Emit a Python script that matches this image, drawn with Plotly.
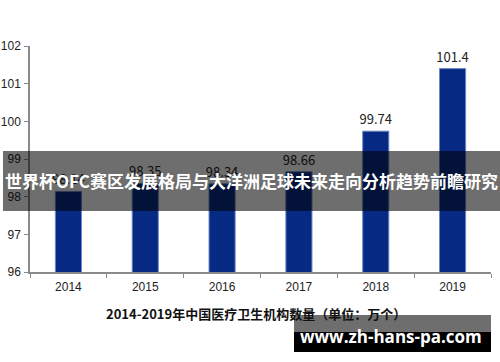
import plotly.graph_objects as go

years = ["2014", "2015", "2016", "2017", "2018", "2019"]
values = [98.14, 98.35, 98.34, 98.66, 99.74, 101.4]
labels = ["98.14", "98.35", "98.34", "98.66", "99.74", "101.4"]
y_ticks = [96, 97, 98, 99, 100, 101, 102]

title_text = "2014-2019年中国医疗卫生机构数量（单位：万个）"
banner_text = "世界杯OFC赛区发展格局与大洋洲足球未来走向分析趋势前瞻研究"
site_text = "www.zh-hans-pa.com"

W, H = 500, 362
L, R, T, B = 30, 9, 46, 90
pw, ph = W - L - R, H - T - B

def px(x):
    return (x - L) / pw

def py(y):
    return (H - B - y) / ph

fig = go.Figure()
fig.add_trace(go.Bar(
    x=years, y=values, text=labels, textposition="outside",
    marker=dict(color="#062a83", line=dict(color="#7088c8", width=1)),
    width=0.34, cliponaxis=False, constraintext="none",
    textfont=dict(family="Noto Sans CJK JP, sans-serif", size=13, color="#222222"),
))

fig.update_layout(
    width=W, height=H,
    margin=dict(l=L, r=R, t=T, b=B),
    plot_bgcolor="white", paper_bgcolor="white",
    showlegend=False,
    xaxis=dict(
        type="category", showline=True, linecolor="#8a8a8a", linewidth=1.5,
        ticks="outside", tickson="boundaries", ticklen=4, tickcolor="#8a8a8a",
        tickfont=dict(family="Liberation Sans, Arial", size=12, color="#222222"),
        showgrid=False, range=[-0.5, 5.5], automargin=False, ticklabelstandoff=3,
    ),
    yaxis=dict(
        range=[96, 102], tickvals=y_ticks, showline=True, linecolor="#8a8a8a",
        linewidth=1.5, ticks="outside", ticklen=4, tickcolor="#8a8a8a",
        tickfont=dict(family="Liberation Sans, Arial", size=12, color="#222222"),
        showgrid=False, zeroline=False, automargin=False, ticklabelstandoff=1,
    ),
    font=dict(family="Liberation Sans, Arial"),
)

fig.add_annotation(
    text=title_text, xref="paper", yref="paper", x=px(256), y=py(313),
    showarrow=False, xanchor="center", yanchor="middle",
    font=dict(family="Noto Sans CJK SC", size=13, color="#111111", weight="bold"),
)

# banner overlay
fig.add_shape(type="rect", xref="paper", yref="paper",
              x0=px(3), x1=px(500), y0=py(211), y1=py(151),
              fillcolor="rgba(0,0,0,0.57)", line=dict(width=0), layer="above")
fig.add_annotation(
    text=banner_text, xref="paper", yref="paper", x=px(251), y=py(181),
    showarrow=False, xanchor="center", yanchor="middle",
    font=dict(family="Noto Sans CJK SC", size=17, color="white", weight="bold"),
)

# site watermark box
fig.add_shape(type="rect", xref="paper", yref="paper",
              x0=px(294), x1=px(491), y0=py(332), y1=py(315),
              fillcolor="#6e6e6e", line=dict(width=0), layer="above")
fig.add_shape(type="rect", xref="paper", yref="paper",
              x0=px(294), x1=px(491), y0=py(352), y1=py(332),
              fillcolor="#000000", line=dict(width=0), layer="above")
fig.add_annotation(
    text=site_text, xref="paper", yref="paper", x=px(391), y=py(336),
    showarrow=False, xanchor="center", yanchor="middle",
    font=dict(family="Open Sans", size=17, color="white", weight="bold"),
)

fig.write_html("out.html")
